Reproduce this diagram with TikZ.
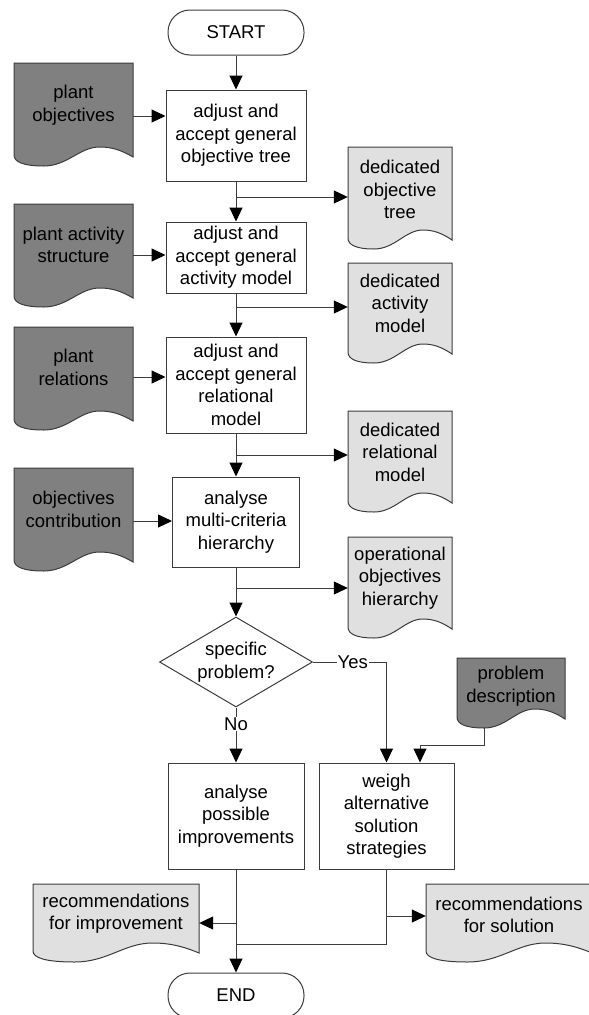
\documentclass[tikz,border=0pt]{standalone}
\usepackage{fontspec}
\setmainfont{Liberation Sans}
\usetikzlibrary{shapes.geometric,arrows.meta,calc}
\definecolor{docdark}{RGB}{128,128,128}
\definecolor{doclight}{RGB}{224,224,224}
\definecolor{edge}{RGB}{60,60,60}
\newcommand{\wavedoc}[5]{%
\filldraw [fill=#5, draw=edge, line width=1pt] (#1,#2) -- ({#1+#3},#2) -- ({#1+#3},{#2+#4-9})
  .. controls ({#1+0.9*#3},{#2+#4-16}) and ({#1+0.82*#3},{#2+#4-19}) .. ({#1+0.72*#3},{#2+#4-19})
  .. controls ({#1+0.55*#3},{#2+#4-19}) and ({#1+0.45*#3},{#2+#4}) .. ({#1+0.25*#3},{#2+#4})
  .. controls ({#1+0.08*#3},{#2+#4}) and (#1,{#2+#4-4}) .. (#1,{#2+#4-11}) -- cycle;}

\begin{document}
\begin{tikzpicture}[x=1pt,y=-1pt,
  every node/.style={font=\fontsize{18.5}{22.5}\selectfont, align=center, inner sep=0pt},
  box/.style={draw=edge, line width=1pt, fill=white},
  term/.style={draw=edge, line width=1pt, rounded corners=22pt, minimum width=136, minimum height=45},
  decision/.style={diamond, draw=edge, line width=1pt, aspect=1.7, minimum width=153, minimum height=90},
  doc/.style={minimum width=#1},
  lab/.style={fill=white, inner sep=1pt},
  link/.style={draw=edge, line width=1pt},
  conn/.style={link, -{Triangle[length=14pt,width=13pt,color=black]}}]
\useasboundingbox (0,0) rectangle (589,1015);

\wavedoc{14}{63}{119}{103}{docdark}
\node [doc=119] (pobj) at (73.5,105) {plant\\objectives};
\wavedoc{14}{204}{119}{103}{docdark}
\node [doc=119] (pact) at (73.5,245) {plant activity\\structure};
\wavedoc{14}{327}{119}{103}{docdark}
\node [doc=119] (prel) at (73.5,367.5) {plant\\relations};
\wavedoc{14}{468}{119}{103}{docdark}
\node [doc=119] (pcon) at (73.5,509.5) {objectives\\contribution};

\wavedoc{348}{147}{104}{102}{doclight}
\node [doc=104] (dtree) at (400,189.5) {dedicated\\objective\\tree};
\wavedoc{348}{263}{104}{100}{doclight}
\node [doc=104] (dact) at (400,303) {dedicated\\activity\\model};
\wavedoc{348}{411}{104}{101}{doclight}
\node [doc=104] (drel) at (400,452) {dedicated\\relational\\model};
\wavedoc{348}{537}{104}{101}{doclight}
\node [doc=104] (dhier) at (400,578) {operational\\objectives\\hierarchy};
\wavedoc{457}{658}{108}{70}{docdark}
\node [doc=108] (pdesc) at (511,686) {problem\\description};
\wavedoc{33}{884}{166}{78}{doclight}
\node [doc=166] (rimp) at (116,913.5) {recommendations\\for improvement};
\wavedoc{426}{884}{166}{78}{doclight}
\node [doc=166] (rsol) at (509,915) {recommendations\\for solution};

\node [term] (start) at (236,32.5) {START};
\node [box, minimum width=140, minimum height=91] (tree) at (236,135.5) {adjust and\\accept general\\objective tree};
\node [box, minimum width=140, minimum height=71] (act) at (236,257.5) {adjust and\\accept general\\activity model};
\node [box, minimum width=140, minimum height=96] (rel) at (236,385) {adjust and\\accept general\\relational\\model};
\node [box, minimum width=127, minimum height=90] (mch) at (236,522) {analyse\\multi-criteria\\hierarchy};
\node [decision] (spec) at (236,662) {specific\\problem?};
\node [box, minimum width=136, minimum height=106] (impr) at (236,816) {analyse\\possible\\improvements};
\node [box, minimum width=135, minimum height=106] (weigh) at (386.5,816) {weigh\\alternative\\solution\\strategies};
\node [term] (end) at (236,995.5) {END};
\coordinate (pdlow) at (484,728);
\coordinate (join) at (236,944);

\draw [conn] (start) -- (tree);
\draw [conn] (tree) -- (act);
\draw [conn] (act) -- (rel);
\draw [conn] (rel) -- (mch);
\draw [conn] (mch) -- (spec);
\draw [conn] ($(pobj.east)+(0,11)$) -- ($(pobj.east -| tree.west)+(0,11)$);
\draw [conn] ($(pact.east)+(0,10)$) -- ($(pact.east -| act.west)+(0,10)$);
\draw [conn] ($(prel.east)+(0,9.5)$) -- ($(prel.east -| rel.west)+(0,9.5)$);
\draw [conn] ($(pcon.east)+(0,11.5)$) -- ($(pcon.east -| mch.west)+(0,11.5)$);
\draw [conn] ($(tree.south |- dtree.west)+(0,7.5)$) -- ($(dtree.west)+(0,7.5)$);
\draw [conn] ($(act.south |- dact.west)+(0,4)$) -- ($(dact.west)+(0,4)$);
\draw [conn] ($(rel.south |- drel.west)+(0,3)$) -- ($(drel.west)+(0,3)$);
\draw [conn] ($(mch.south |- dhier.west)+(0,10)$) -- ($(dhier.west)+(0,10)$);
\draw [conn] (spec) -- node [lab, pos=0.3] {No} (impr);
\draw [conn] (spec.east) -| node [lab, pos=0.27] {Yes} (weigh.north);
\draw [conn] (pdlow) -- ++(0,17) -| ($(weigh.north)+(33.5,0)$);
\draw [conn] (impr) -- (end);
\draw [conn] ($(impr.south |- rimp.east)+(0,9.5)$) -- ($(rimp.east)+(0,9.5)$);
\draw [link] (weigh.south) |- (join);
\draw [conn] ($(weigh.south |- rsol.west)+(0,1)$) -- ($(rsol.west)+(0,1)$);
\end{tikzpicture}
\end{document}
